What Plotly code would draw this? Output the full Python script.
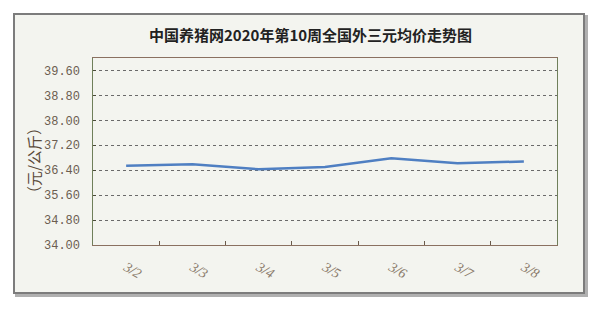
import plotly.graph_objects as go

dates = ["3/2", "3/3", "3/4", "3/5", "3/6", "3/7", "3/8"]
prices = [36.54, 36.59, 36.43, 36.50, 36.78, 36.62, 36.68]
y_ticks = [34.00, 34.80, 35.60, 36.40, 37.20, 38.00, 38.80, 39.60]
title_text = "中国养猪网2020年第10周全国外三元均价走势图"
y_title = "（元/公斤）"

W, H = 600, 310
L, R, T, B = 30, 43, 58, 65
PLOT_LEFT = 93
pw, ph = W - L - R, H - T - B

def px(x):
    return (x - L) / pw

def py(y):
    return (H - B - y) / ph

fig = go.Figure()
fig.add_trace(go.Scatter(
    x=dates, y=prices, mode="lines",
    line=dict(color="#4f7fc2", width=2.5),
    hoverinfo="skip", showlegend=False,
))
# invisible carrier so the label axis is drawn
fig.add_trace(go.Scatter(
    x=dates, y=prices, yaxis="y2", mode="lines",
    line=dict(color="rgba(0,0,0,0)", width=0),
    hoverinfo="skip", showlegend=False,
))

shapes = [
    dict(type="rect", xref="paper", yref="paper", layer="below",
         x0=px(16), x1=px(587), y0=py(16), y1=py(296),
         line=dict(color="#b0b0b0", width=2), fillcolor="#b0b0b0"),
    dict(type="rect", xref="paper", yref="paper", layer="below",
         x0=px(14), x1=px(584), y0=py(14), y1=py(293),
         line=dict(color="#7c7c7c", width=2), fillcolor="#f3f4ef"),
]

fig.update_layout(
    width=W, height=H,
    margin=dict(l=L, r=R, t=T, b=B),
    paper_bgcolor="white",
    plot_bgcolor="#f3f4ef",
    shapes=shapes,
    annotations=[
        dict(text=title_text, xref="paper", yref="paper",
             x=px(310), y=py(35), showarrow=False,
             font=dict(family="Noto Sans CJK SC", size=15, color="#222222", weight="bold"),
             xanchor="center", yanchor="middle"),
        dict(text=y_title, xref="paper", yref="paper",
             x=px(33), y=py(161), showarrow=False, textangle=-90,
             font=dict(family="Noto Sans CJK SC", size=15, color="#5a4a3a"),
             xanchor="center", yanchor="middle"),
    ],
    xaxis=dict(
        domain=[px(PLOT_LEFT), 1],
        type="category", range=[-0.5, 6.5],
        showgrid=False, zeroline=False,
        showline=True, linecolor="#8a7060", linewidth=1, mirror=True,
        ticks="inside", tickson="boundaries", ticklen=4, tickcolor="#6a5a4a",
        tickangle=30, ticklabelstandoff=8,
        tickfont=dict(family="Liberation Serif", size=14, color="#8a7a6a", style="italic"),
    ),
    yaxis=dict(
        range=[34, 40], tickvals=y_ticks,
        showticklabels=False,
        showgrid=True, gridcolor="#6a6a6a", gridwidth=1, griddash="dot",
        zeroline=False,
        showline=True, linecolor="#6f7f5a", linewidth=1, mirror=True,
        ticks="inside", ticklen=3, tickcolor="#4a4a3a",
    ),
    yaxis2=dict(
        overlaying="y", anchor="free", position=px(80), side="left",
        range=[34, 40], tickvals=y_ticks,
        ticktext=[f"{v:.2f}" for v in y_ticks],
        showgrid=False, zeroline=False, showline=False, ticks="",
        tickfont=dict(family="Liberation Mono", size=12, color="#6b5d50"),
    ),
)

fig.write_html("out.html")
